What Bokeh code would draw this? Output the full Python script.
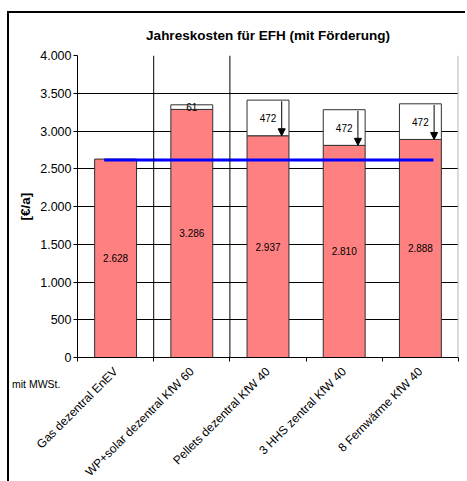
from math import pi
from bokeh.plotting import figure
from bokeh.layouts import column
from bokeh.models import Range1d, FixedTicker, Span, Arrow, NormalHead, LinearAxis, Div
from bokeh.embed import file_html
from bokeh.resources import INLINE
from bokeh.core.properties import value

# ---- data ----
categories = ["Gas dezentral EnEV", "WP+solar dezentral KfW 60",
              "Pellets dezentral KfW 40", "3 HHS zentral KfW 40",
              "8 Fernwärme KfW 40"]
costs = [2628, 3286, 2937, 2810, 2888]          # Jahreskosten mit Förderung
subsidy = [0, 61, 472, 472, 472]                # Förderung (weißes Segment)
arrow_flags = [False, False, True, True, True]
reference_cost = 2615                            # blaue Referenzlinie
reference_span = [0.35, 4.67]                    # x-Ausdehnung der Linie (Kategorie-Einheiten)
y_ticks = [0, 500, 1000, 1500, 2000, 2500, 3000, 3500, 4000]
y_tick_labels = ["0", "500", "1.000", "1.500", "2.000", "2.500", "3.000", "3.500", "4.000"]
title_text = "Jahreskosten für EFH (mit Förderung)"
y_label = "[€/a]"
note_text = "mit MWSt."


def fmt(v):
    return f"{v:,}".replace(",", ".")


FONT = "Liberation Sans"
centers = [i + 0.5 for i in range(len(categories))]
totals = [c + s for c, s in zip(costs, subsidy)]

p = figure(width=458, height=473, x_range=Range1d(0, 5), y_range=Range1d(0, 4000),
           output_backend="svg", toolbar_location=None,
           min_border_left=68, min_border_right=9, min_border_top=41, min_border_bottom=128)
p.styles = {"border-left": "2px solid black", "border-top": "2px solid black",
            "margin-left": "7px", "margin-top": "11px"}
p.outline_line_color = None
p.background_fill_color = "white"
p.border_fill_color = "white"

p.title.text = title_text
p.title.align = "center"
p.title.standoff = 25
p.title.text_font = FONT
p.title.text_font_size = "13.5px"
p.title.text_font_style = "bold"
p.title.text_color = "black"

# axes
p.xaxis.ticker = FixedTicker(ticks=list(range(len(categories) + 1)))
p.xaxis.major_label_text_font_size = "0px"
p.xaxis.major_label_text_color = None
p.xaxis.major_label_standoff = 0
p.xaxis.major_tick_out = 4
p.xaxis.major_tick_in = 0
p.xaxis.minor_tick_line_color = None
p.xaxis.axis_line_color = "black"
p.xaxis.major_tick_line_color = "black"

cat_axis = LinearAxis(ticker=FixedTicker(ticks=centers),
                      major_label_overrides={c: n for c, n in zip(centers, categories)},
                      major_label_orientation=pi / 4,
                      major_label_text_font=FONT, major_label_text_font_size="12px",
                      major_label_text_color="black", major_label_standoff=2,
                      axis_line_color=None, major_tick_line_color=None,
                      minor_tick_line_color=None)
p.add_layout(cat_axis, "below")

p.yaxis.ticker = FixedTicker(ticks=y_ticks)
p.yaxis.major_label_overrides = {t: l for t, l in zip(y_ticks, y_tick_labels)}
p.yaxis.major_label_text_font = FONT
p.yaxis.major_label_text_font_size = "12.5px"
p.yaxis.major_label_text_color = "black"
p.yaxis.major_label_standoff = 2
p.yaxis.major_tick_out = 4
p.yaxis.major_tick_in = 0
p.yaxis.minor_tick_line_color = None
p.yaxis.axis_line_color = "black"
p.yaxis.major_tick_line_color = "black"
p.yaxis.axis_label = y_label
p.yaxis.axis_label_text_font = FONT
p.yaxis.axis_label_text_font_size = "13.5px"
p.yaxis.axis_label_text_font_style = "bold"
p.yaxis.axis_label_text_color = "black"
p.yaxis.axis_label_standoff = 4

p.xgrid.visible = False
p.ygrid.grid_line_color = "black"
p.ygrid.grid_line_width = 1

# vertical separators and right frame edge
for loc in (1, 2):
    p.add_layout(Span(location=loc, dimension="height", line_color="black", line_width=1))
p.add_layout(Span(location=5, dimension="height", line_color="#b8b8b8", line_width=2))

# bars
p.vbar(x=centers, width=0.55, bottom=0, top=costs, fill_color="#FF8080",
       line_color="#303030", line_width=1)
sx = [c for c, s in zip(centers, subsidy) if s > 0]
sb = [v for v, s in zip(costs, subsidy) if s > 0]
st = [t for t, s in zip(totals, subsidy) if s > 0]
p.vbar(x=sx, width=0.55, bottom=sb, top=st, fill_color="white",
       line_color="#303030", line_width=1)

# reference line
p.line(x=reference_span, y=[reference_cost, reference_cost], line_color="#0000FF", line_width=3)

# value labels
p.text(x=centers, y=[c / 2 for c in costs], text=[fmt(c) for c in costs],
       text_align="center", text_baseline="middle", text_font=value(FONT),
       text_font_size="10px", text_color="black")
p.text(x=sx, y=[b + (t - b) / 2 for b, t in zip(sb, st)],
       text=[fmt(s) for s in subsidy if s > 0],
       text_align="center", text_baseline="middle", text_font=value(FONT),
       text_font_size="10px", text_color="black")

# arrows
for c, v, t, f in zip(centers, costs, totals, arrow_flags):
    if f:
        p.add_layout(Arrow(end=NormalHead(size=7, fill_color="black", line_color="black"),
                           x_start=c + 0.18, y_start=t - 15, x_end=c + 0.18, y_end=v,
                           line_color="black", line_width=1))

note = Div(text=f'<span style="font-family:\'{FONT}\';font-size:10.5px;color:black;'
                f'white-space:nowrap">{note_text}</span>',
           margin=0,
           styles={"position": "absolute", "left": "12px", "top": "376px"})

layout = column(p, note)
open("out.html", "w").write(file_html(layout, INLINE))
